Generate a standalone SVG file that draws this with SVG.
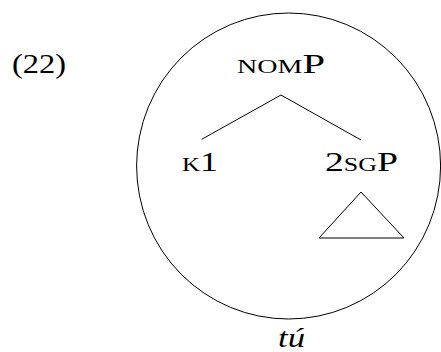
<svg xmlns="http://www.w3.org/2000/svg" width="441" height="352" viewBox="0 0 441 352">
<style>
  .t { font-family: "Liberation Serif", "DejaVu Serif", serif; font-size: 27.5px; fill: #000; }
  .sc { font-variant: small-caps; }
  .it { font-style: italic; }
  .ln { stroke: #000; stroke-width: 1; fill: none; }
</style>
<rect width="441" height="352" fill="#fff"/>
<g id="label">
  <text class="t" x="12" y="73.3" textLength="54" lengthAdjust="spacingAndGlyphs">(22)</text>
</g>
<g id="circle">
  <ellipse class="ln" cx="288.6" cy="166" rx="152" ry="153"/>
</g>
<g id="connectors">
  <polyline class="ln" points="201.7,139.3 281,95 361,140"/>
  <polygon class="ln" points="361,192 319,238 404,238"/>
</g>
<g id="nomP">
  <text class="t" x="237" y="73" textLength="88" lengthAdjust="spacingAndGlyphs"><tspan class="sc">nom</tspan>P</text>
</g>
<g id="k1">
  <text class="t" x="182" y="171" textLength="36" lengthAdjust="spacingAndGlyphs"><tspan class="sc">k</tspan>1</text>
</g>
<g id="sgP">
  <text class="t" x="325" y="171" textLength="73" lengthAdjust="spacingAndGlyphs">2<tspan class="sc">sg</tspan>P</text>
</g>
<g id="tu">
  <text class="t it" x="278" y="347" textLength="27" lengthAdjust="spacingAndGlyphs">tú</text>
</g>
</svg>
